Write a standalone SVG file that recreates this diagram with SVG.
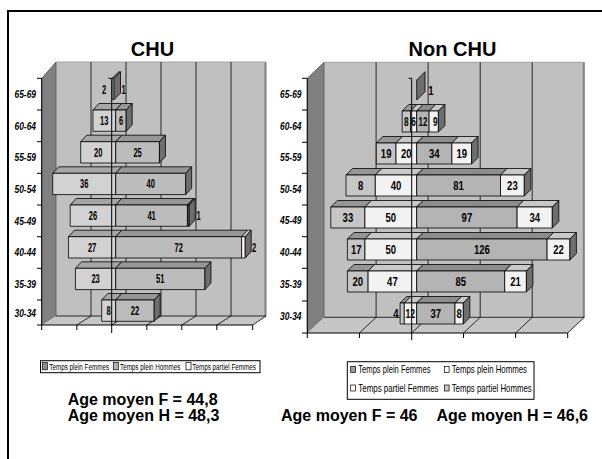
<svg xmlns="http://www.w3.org/2000/svg" width="602" height="459" viewBox="0 0 602 459">
<style>
.s{stroke:#000;stroke-width:0.8;stroke-linejoin:round}
.wall{fill:#c0c0c0}
.side{fill:#808080;stroke:#555;stroke-width:0.8}
.floor{fill:#c6c6c6}
.grid{stroke:#000;stroke-width:0.8;fill:none}
.ax{stroke:#000;stroke-width:1;fill:none}
.lf{fill:#d2d2d2}.lft{fill:#a6a6a6}
.lh{fill:#bcbcbc}.lht{fill:#969696}
.rs{fill:#6e6e6e}
.dk{fill:#6e6e6e}
.wh{fill:#ffffff}.wht{fill:#e0e0e0}
.ra{fill:#c6c6c6}.rat{fill:#969696}
.rb{fill:#f2f2f2}.rbt{fill:#c8c8c8}
.rc{fill:#b4b4b4}.rct{fill:#8c8c8c}
.t{font-family:"Liberation Sans",Arial,sans-serif;fill:#000}
.ttl{font-size:20px;font-weight:bold;text-anchor:middle}
.cat{font-size:10.5px;font-weight:bold;font-style:italic;text-anchor:end}
.vl{font-size:12px;font-weight:bold;text-anchor:middle}
.vr{font-size:13.5px;font-weight:bold;text-anchor:middle}
.vs{font-size:12px;font-weight:bold;text-anchor:middle}
.lg{font-size:9px}
.lg2{font-size:10px}
.age{font-size:16px;font-weight:bold}
</style>

<g id="frame"><path d="M8,459 V11 H602" fill="none" stroke="#000" stroke-width="2"/></g>

<g id="titles">
<text class="t ttl" x="152.5" y="56">CHU</text>
<text class="t ttl" x="452.5" y="56">Non CHU</text>
</g>

<!-- LEFT CHART -->
<g id="chu-chart">
<g id="chu-walls">
<rect class="wall" x="56" y="62" width="210" height="254"/>
<polygon class="side" points="41.7,78.3 56,62 56,316 41.7,325"/>
<polygon class="floor" points="41.7,325 252.7,325 266,316 56,316"/>
<line x1="265.5" y1="62" x2="265.5" y2="316" stroke="#808080" stroke-width="2"/>
<line x1="56" y1="62" x2="266" y2="62" stroke="#a0a0a0" stroke-width="1"/>
<path class="grid" d="M91,62V316M126,62V316M161,62V316M196,62V316M231,62V316"/>
<path class="grid" d="M76.8,325L91,316M111.7,325L126,316M146.8,325L161,316M181.8,325L196,316M216.8,325L231,316M252.7,325L266,316M56,316H266"/>
<path class="ax" d="M41.7,78.3V325H252.7M37,78.3H41.7M37,110H41.7M37,141.7H41.7M37,173.3H41.7M37,205H41.7M37,236.7H41.7M37,268.3H41.7M37,300H41.7M37,325H41.7M41.7,325V330M76.8,325V330M146.8,325V330M181.8,325V330M216.8,325V330M252.7,325V330"/>
</g>
<g id="chu-labels">
<text class="t cat" x="36" y="97.5" textLength="21.5" lengthAdjust="spacingAndGlyphs">65-69</text>
<text class="t cat" x="36" y="129.5" textLength="21.5" lengthAdjust="spacingAndGlyphs">60-64</text>
<text class="t cat" x="36" y="161" textLength="21.5" lengthAdjust="spacingAndGlyphs">55-59</text>
<text class="t cat" x="36" y="192.5" textLength="21.5" lengthAdjust="spacingAndGlyphs">50-54</text>
<text class="t cat" x="36" y="224.5" textLength="21.5" lengthAdjust="spacingAndGlyphs">45-49</text>
<text class="t cat" x="36" y="256" textLength="21.5" lengthAdjust="spacingAndGlyphs">40-44</text>
<text class="t cat" x="36" y="287.5" textLength="21.5" lengthAdjust="spacingAndGlyphs">35-39</text>
<text class="t cat" x="36" y="316.5" textLength="21.5" lengthAdjust="spacingAndGlyphs">30-34</text>
</g>
<g id="chu-bars" class="s">
<g id="chu-65-69">
<polygon class="lft" points="112.2,78.3 114,78.3 120.5,71.8 118.7,71.8"/>
<rect class="wh" x="112.2" y="78.3" width="1.8" height="21.3"/>
<polygon class="dk" points="114,78.3 120.5,71.8 120.5,93.1 114,99.6"/>
</g>
<g id="chu-60-64">
<polygon class="lft" points="92.95,110 115.7,110 121.7,103.5 98.95,103.5"/>
<rect class="lf" x="92.95" y="110" width="22.75" height="21.3"/>
<polygon class="lht" points="115.7,110 126.2,110 132.2,103.5 121.7,103.5"/>
<rect class="lh" x="115.7" y="110" width="10.5" height="21.3"/>
<polygon class="rs" points="126.2,110 132.2,103.5 132.2,124.8 126.2,131.3"/>
</g>
<g id="chu-55-59">
<polygon class="lft" points="80.7,141.7 115.7,141.7 121.7,135.2 86.7,135.2"/>
<rect class="lf" x="80.7" y="141.7" width="35" height="21.3"/>
<polygon class="lht" points="115.7,141.7 159.45,141.7 165.45,135.2 121.7,135.2"/>
<rect class="lh" x="115.7" y="141.7" width="43.75" height="21.3"/>
<polygon class="rs" points="159.45,141.7 165.45,135.2 165.45,156.5 159.45,163"/>
</g>
<g id="chu-50-54">
<polygon class="lft" points="52.7,173.3 115.7,173.3 121.7,166.8 58.7,166.8"/>
<rect class="lf" x="52.7" y="173.3" width="63" height="21.3"/>
<polygon class="lht" points="115.7,173.3 185.7,173.3 191.7,166.8 121.7,166.8"/>
<rect class="lh" x="115.7" y="173.3" width="70" height="21.3"/>
<polygon class="rs" points="185.7,173.3 191.7,166.8 191.7,188.1 185.7,194.6"/>
</g>
<g id="chu-45-49">
<polygon class="lft" points="70.2,205 115.7,205 121.7,198.5 76.2,198.5"/>
<rect class="lf" x="70.2" y="205" width="45.5" height="21.3"/>
<polygon class="lht" points="115.7,205 187.45,205 193.45,198.5 121.7,198.5"/>
<rect class="lh" x="115.7" y="205" width="71.75" height="21.3"/>
<polygon class="rs" points="187.45,205 189.2,205 195.2,198.5 193.45,198.5"/>
<rect class="dk" x="187.45" y="205" width="1.75" height="21.3"/>
<polygon class="rs" points="189.2,205 195.2,198.5 195.2,219.8 189.2,226.3"/>
</g>
<g id="chu-40-44">
<polygon class="lft" points="68.45,236.7 115.7,236.7 121.7,230.2 74.45,230.2"/>
<rect class="lf" x="68.45" y="236.7" width="47.25" height="21.3"/>
<polygon class="lht" points="115.7,236.7 241.7,236.7 247.7,230.2 121.7,230.2"/>
<rect class="lh" x="115.7" y="236.7" width="126" height="21.3"/>
<polygon class="wht" points="241.7,236.7 245.2,236.7 251.2,230.2 247.7,230.2"/>
<rect class="wh" x="241.7" y="236.7" width="3.5" height="21.3"/>
<polygon class="rs" points="245.2,236.7 251.2,230.2 251.2,251.5 245.2,258"/>
</g>
<g id="chu-35-39">
<polygon class="lft" points="75.45,268.3 115.7,268.3 121.7,261.8 81.45,261.8"/>
<rect class="lf" x="75.45" y="268.3" width="40.25" height="21.3"/>
<polygon class="lht" points="115.7,268.3 204.95,268.3 210.95,261.8 121.7,261.8"/>
<rect class="lh" x="115.7" y="268.3" width="89.25" height="21.3"/>
<polygon class="rs" points="204.95,268.3 210.95,261.8 210.95,283.1 204.95,289.6"/>
</g>
<g id="chu-30-34">
<polygon class="lft" points="101.7,300 115.7,300 121.7,293.5 107.7,293.5"/>
<rect class="lf" x="101.7" y="300" width="14" height="21.3"/>
<polygon class="lht" points="115.7,300 154.2,300 160.2,293.5 121.7,293.5"/>
<rect class="lh" x="115.7" y="300" width="38.5" height="21.3"/>
<polygon class="rs" points="154.2,300 160.2,293.5 160.2,314.8 154.2,321.3"/>
</g>
</g>
<path class="ax" d="M108.5,78.3H111.7V333"/>
<g id="chu-values">
<text class="t vl" x="104" y="93.5" textLength="4.2" lengthAdjust="spacingAndGlyphs">2</text>
<text class="t vl" x="123.5" y="93.5" textLength="4.2" lengthAdjust="spacingAndGlyphs">1</text>
<text class="t vl" x="104.3" y="125.2" textLength="8.4" lengthAdjust="spacingAndGlyphs">13</text>
<text class="t vl" x="121" y="125.2" textLength="4.2" lengthAdjust="spacingAndGlyphs">6</text>
<text class="t vl" x="98.2" y="156.8" textLength="8.4" lengthAdjust="spacingAndGlyphs">20</text>
<text class="t vl" x="137.6" y="156.8" textLength="8.4" lengthAdjust="spacingAndGlyphs">25</text>
<text class="t vl" x="84.2" y="188.4" textLength="8.4" lengthAdjust="spacingAndGlyphs">36</text>
<text class="t vl" x="150.7" y="188.4" textLength="8.4" lengthAdjust="spacingAndGlyphs">40</text>
<text class="t vl" x="92.95" y="220.1" textLength="8.4" lengthAdjust="spacingAndGlyphs">26</text>
<text class="t vl" x="151.6" y="220.1" textLength="8.4" lengthAdjust="spacingAndGlyphs">41</text>
<text class="t vl" x="198.5" y="220.1" textLength="4.2" lengthAdjust="spacingAndGlyphs">1</text>
<text class="t vl" x="92.1" y="251.8" textLength="8.4" lengthAdjust="spacingAndGlyphs">27</text>
<text class="t vl" x="178.7" y="251.8" textLength="8.4" lengthAdjust="spacingAndGlyphs">72</text>
<text class="t vl" x="254" y="251.8" textLength="4.2" lengthAdjust="spacingAndGlyphs">2</text>
<text class="t vl" x="95.6" y="283.4" textLength="8.4" lengthAdjust="spacingAndGlyphs">23</text>
<text class="t vl" x="160.3" y="283.4" textLength="8.4" lengthAdjust="spacingAndGlyphs">51</text>
<text class="t vl" x="108.7" y="315.1" textLength="4.2" lengthAdjust="spacingAndGlyphs">8</text>
<text class="t vl" x="134.95" y="315.1" textLength="8.4" lengthAdjust="spacingAndGlyphs">22</text>
</g>
<g id="chu-legend">
<rect x="40.5" y="360.7" width="219.5" height="12" fill="#fff" stroke="#000" stroke-width="1"/>
<rect x="42.3" y="362.3" width="5" height="7.5" fill="#909090" stroke="#000" stroke-width="0.7"/>
<text class="t lg" transform="translate(49.3,369.5) scale(0.7,1)">Temps plein Femmes</text>
<rect x="113.3" y="362.3" width="5" height="7.5" fill="#b4b4b4" stroke="#000" stroke-width="0.7"/>
<text class="t lg" transform="translate(120,369.5) scale(0.7,1)">Temps plein Hommes</text>
<rect x="186" y="362.3" width="5" height="7.5" fill="#fff" stroke="#000" stroke-width="0.7"/>
<text class="t lg" transform="translate(192.3,369.5) scale(0.7,1)">Temps partiel Femmes</text>
</g>
</g>

<!-- RIGHT CHART -->
<g id="nonchu-chart">
<g id="nonchu-walls">
<rect class="wall" x="324" y="62.3" width="260.3" height="255"/>
<polygon class="side" points="307.3,78.3 324,62.3 324,317.3 307.3,333"/>
<polygon class="floor" points="307.3,333 567.7,333 584.3,317.3 324,317.3"/>
<line x1="583.8" y1="62.3" x2="583.8" y2="317.3" stroke="#808080" stroke-width="2"/>
<line x1="324" y1="62.3" x2="584.3" y2="62.3" stroke="#a0a0a0" stroke-width="1"/>
<path class="grid" d="M376.1,62.3V317.3M428.1,62.3V317.3M480.2,62.3V317.3M532.2,62.3V317.3"/>
<path class="grid" d="M359.4,333L376.1,317.3M411.7,333L428.1,317.3M463.5,333L480.2,317.3M515.6,333L532.2,317.3M567.7,333L584.3,317.3M324,317.3H584.3"/>
<path class="ax" d="M307.3,78.3V333H567.7M302,78.3H307.3M302,110H307.3M302,142.3H307.3M302,173.3H307.3M302,205H307.3M302,236.7H307.3M302,268.3H307.3M302,301H307.3M302,333H307.3M307.3,333V338M359.4,333V338M463.5,333V338M515.6,333V338M567.7,333V338"/>
</g>
<g id="nonchu-labels">
<text class="t cat" x="301.5" y="97.7" textLength="21.5" lengthAdjust="spacingAndGlyphs">65-69</text>
<text class="t cat" x="301.5" y="129.7" textLength="21.5" lengthAdjust="spacingAndGlyphs">60-64</text>
<text class="t cat" x="301.5" y="161.3" textLength="21.5" lengthAdjust="spacingAndGlyphs">55-59</text>
<text class="t cat" x="301.5" y="192.7" textLength="21.5" lengthAdjust="spacingAndGlyphs">50-54</text>
<text class="t cat" x="301.5" y="224.4" textLength="21.5" lengthAdjust="spacingAndGlyphs">45-49</text>
<text class="t cat" x="301.5" y="256" textLength="21.5" lengthAdjust="spacingAndGlyphs">40-44</text>
<text class="t cat" x="301.5" y="288.2" textLength="21.5" lengthAdjust="spacingAndGlyphs">35-39</text>
<text class="t cat" x="301.5" y="320.2" textLength="21.5" lengthAdjust="spacingAndGlyphs">30-34</text>
</g>
<g id="nonchu-bars" class="s">
<g id="nc-65-69">
<polygon class="dk" points="416.7,80 425,71.7 425,91.7 416.7,100"/>
</g>
<g id="nc-60-64">
<polygon class="rat" points="402.2,111 410.5,111 417,104.5 408.7,104.5"/>
<rect class="ra" x="402.2" y="111" width="8.3" height="21"/>
<polygon class="rbt" points="410.5,111 416.7,111 423.2,104.5 417,104.5"/>
<rect class="rb" x="410.5" y="111" width="6.2" height="21"/>
<polygon class="rct" points="416.7,111 429.1,111 435.6,104.5 423.2,104.5"/>
<rect class="rc" x="416.7" y="111" width="12.4" height="21"/>
<polygon class="rbt" points="429.1,111 438.4,111 444.9,104.5 435.6,104.5"/>
<rect class="rb" x="429.1" y="111" width="9.3" height="21"/>
<polygon class="rs" points="438.4,111 444.9,104.5 444.9,125.5 438.4,132"/>
</g>
<g id="nc-55-59">
<polygon class="rat" points="376.3,143 396,143 402.5,136.5 382.8,136.5"/>
<rect class="ra" x="376.3" y="143" width="19.7" height="21"/>
<polygon class="rbt" points="396,143 416.7,143 423.2,136.5 402.5,136.5"/>
<rect class="rb" x="396" y="143" width="20.7" height="21"/>
<polygon class="rct" points="416.7,143 451.9,143 458.4,136.5 423.2,136.5"/>
<rect class="rc" x="416.7" y="143" width="35.2" height="21"/>
<polygon class="rbt" points="451.9,143 471.6,143 478.1,136.5 458.4,136.5"/>
<rect class="rb" x="451.9" y="143" width="19.7" height="21"/>
<polygon class="rs" points="471.6,143 478.1,136.5 478.1,157.5 471.6,164"/>
</g>
<g id="nc-50-54">
<polygon class="rat" points="346,175 375.3,175 381.8,168.5 352.5,168.5"/>
<rect class="ra" x="346" y="175" width="29.3" height="21"/>
<polygon class="rbt" points="375.3,175 416.7,175 423.2,168.5 381.8,168.5"/>
<rect class="rb" x="375.3" y="175" width="41.4" height="21"/>
<polygon class="rct" points="416.7,175 500.5,175 507,168.5 423.2,168.5"/>
<rect class="rc" x="416.7" y="175" width="83.8" height="21"/>
<polygon class="rbt" points="500.5,175 524.3,175 530.8,168.5 507,168.5"/>
<rect class="rb" x="500.5" y="175" width="23.8" height="21"/>
<polygon class="rs" points="524.3,175 530.8,168.5 530.8,189.5 524.3,196"/>
</g>
<g id="nc-45-49">
<polygon class="rat" points="330.8,207 364.95,207 371.45,200.5 337.3,200.5"/>
<rect class="ra" x="330.8" y="207" width="34.15" height="21"/>
<polygon class="rbt" points="364.95,207 416.7,207 423.2,200.5 371.45,200.5"/>
<rect class="rb" x="364.95" y="207" width="51.75" height="21"/>
<polygon class="rct" points="416.7,207 517.1,207 523.6,200.5 423.2,200.5"/>
<rect class="rc" x="416.7" y="207" width="100.4" height="21"/>
<polygon class="rbt" points="517.1,207 552.3,207 558.8,200.5 523.6,200.5"/>
<rect class="rb" x="517.1" y="207" width="35.2" height="21"/>
<polygon class="rs" points="552.3,207 558.8,200.5 558.8,221.5 552.3,228"/>
</g>
<g id="nc-40-44">
<polygon class="rat" points="347.4,239 364.95,239 371.45,232.5 353.9,232.5"/>
<rect class="ra" x="347.4" y="239" width="17.55" height="21"/>
<polygon class="rbt" points="364.95,239 416.7,239 423.2,232.5 371.45,232.5"/>
<rect class="rb" x="364.95" y="239" width="51.75" height="21"/>
<polygon class="rct" points="416.7,239 547.1,239 553.6,232.5 423.2,232.5"/>
<rect class="rc" x="416.7" y="239" width="130.4" height="21"/>
<polygon class="rbt" points="547.1,239 569.9,239 576.4,232.5 553.6,232.5"/>
<rect class="rb" x="547.1" y="239" width="22.8" height="21"/>
<polygon class="rs" points="569.9,239 576.4,232.5 576.4,253.5 569.9,260"/>
</g>
<g id="nc-35-39">
<polygon class="rat" points="347.4,271 368.1,271 374.6,264.5 353.9,264.5"/>
<rect class="ra" x="347.4" y="271" width="20.7" height="21"/>
<polygon class="rbt" points="368.1,271 416.7,271 423.2,264.5 374.6,264.5"/>
<rect class="rb" x="368.1" y="271" width="48.6" height="21"/>
<polygon class="rct" points="416.7,271 504.7,271 511.2,264.5 423.2,264.5"/>
<rect class="rc" x="416.7" y="271" width="88" height="21"/>
<polygon class="rbt" points="504.7,271 526.4,271 532.9,264.5 511.2,264.5"/>
<rect class="rb" x="504.7" y="271" width="21.7" height="21"/>
<polygon class="rs" points="526.4,271 532.9,264.5 532.9,285.5 526.4,292"/>
</g>
<g id="nc-30-34">
<polygon class="rat" points="400.1,303 404.3,303 410.8,296.5 406.6,296.5"/>
<rect class="ra" x="400.1" y="303" width="4.2" height="21"/>
<polygon class="rbt" points="404.3,303 416.7,303 423.2,296.5 410.8,296.5"/>
<rect class="rb" x="404.3" y="303" width="12.4" height="21"/>
<polygon class="rct" points="416.7,303 455,303 461.5,296.5 423.2,296.5"/>
<rect class="rc" x="416.7" y="303" width="38.3" height="21"/>
<polygon class="rbt" points="455,303 463.3,303 469.8,296.5 461.5,296.5"/>
<rect class="rb" x="455" y="303" width="8.3" height="21"/>
<polygon class="rs" points="463.3,303 469.8,296.5 469.8,317.5 463.3,324"/>
</g>
</g>
<path class="ax" d="M408.5,78.3H411.7V340"/>
<g id="nonchu-values">
<text class="t vr" x="431" y="94.5" textLength="5.3" lengthAdjust="spacingAndGlyphs">1</text>
<text class="t vs" x="406.35" y="126.3" textLength="4.6" lengthAdjust="spacingAndGlyphs">8</text>
<text class="t vs" x="413.6" y="126.3" textLength="4.6" lengthAdjust="spacingAndGlyphs">6</text>
<text class="t vs" x="423" y="126.3" textLength="8.8" lengthAdjust="spacingAndGlyphs">12</text>
<text class="t vs" x="435.3" y="126.3" textLength="4.6" lengthAdjust="spacingAndGlyphs">9</text>
<text class="t vr" x="386.15" y="158.3" textLength="10.6" lengthAdjust="spacingAndGlyphs">19</text>
<text class="t vr" x="406.35" y="158.3" textLength="10.6" lengthAdjust="spacingAndGlyphs">20</text>
<text class="t vr" x="434.3" y="158.3" textLength="10.6" lengthAdjust="spacingAndGlyphs">34</text>
<text class="t vr" x="461.75" y="158.3" textLength="10.6" lengthAdjust="spacingAndGlyphs">19</text>
<text class="t vr" x="360.65" y="190.3" textLength="5.3" lengthAdjust="spacingAndGlyphs">8</text>
<text class="t vr" x="396" y="190.3" textLength="10.6" lengthAdjust="spacingAndGlyphs">40</text>
<text class="t vr" x="458.6" y="190.3" textLength="10.6" lengthAdjust="spacingAndGlyphs">81</text>
<text class="t vr" x="512.4" y="190.3" textLength="10.6" lengthAdjust="spacingAndGlyphs">23</text>
<text class="t vr" x="347.9" y="222.3" textLength="10.6" lengthAdjust="spacingAndGlyphs">33</text>
<text class="t vr" x="390.8" y="222.3" textLength="10.6" lengthAdjust="spacingAndGlyphs">50</text>
<text class="t vr" x="466.9" y="222.3" textLength="10.6" lengthAdjust="spacingAndGlyphs">97</text>
<text class="t vr" x="534.7" y="222.3" textLength="10.6" lengthAdjust="spacingAndGlyphs">34</text>
<text class="t vr" x="356.2" y="254.3" textLength="10.6" lengthAdjust="spacingAndGlyphs">17</text>
<text class="t vr" x="390.8" y="254.3" textLength="10.6" lengthAdjust="spacingAndGlyphs">50</text>
<text class="t vr" x="481.9" y="254.3" textLength="16" lengthAdjust="spacingAndGlyphs">126</text>
<text class="t vr" x="558.5" y="254.3" textLength="10.6" lengthAdjust="spacingAndGlyphs">22</text>
<text class="t vr" x="357.75" y="286.3" textLength="10.6" lengthAdjust="spacingAndGlyphs">20</text>
<text class="t vr" x="392.4" y="286.3" textLength="10.6" lengthAdjust="spacingAndGlyphs">47</text>
<text class="t vr" x="460.7" y="286.3" textLength="10.6" lengthAdjust="spacingAndGlyphs">85</text>
<text class="t vr" x="515.55" y="286.3" textLength="10.6" lengthAdjust="spacingAndGlyphs">21</text>
<text class="t vr" x="396" y="318.3" textLength="5.3" lengthAdjust="spacingAndGlyphs">4</text>
<text class="t vr" x="410.3" y="318.3" textLength="9.6" lengthAdjust="spacingAndGlyphs">12</text>
<text class="t vr" x="435.85" y="318.3" textLength="10.6" lengthAdjust="spacingAndGlyphs">37</text>
<text class="t vr" x="459.15" y="318.3" textLength="5.3" lengthAdjust="spacingAndGlyphs">8</text>
</g>
<g id="nonchu-legend">
<rect x="347.3" y="361.7" width="186.7" height="37.6" fill="#fff" stroke="#000" stroke-width="1"/>
<rect x="350.7" y="366.5" width="4.8" height="6" fill="#a0a0a0" stroke="#000" stroke-width="0.7"/>
<text class="t lg2" transform="translate(358.3,373.3) scale(0.76,1)">Temps plein Femmes</text>
<rect x="444.3" y="366.5" width="4.8" height="6" fill="#fff" stroke="#000" stroke-width="0.7"/>
<text class="t lg2" transform="translate(451.7,373.3) scale(0.785,1)">Temps plein Hommes</text>
<rect x="350.7" y="385" width="4.8" height="6" fill="#fff" stroke="#000" stroke-width="0.7"/>
<text class="t lg2" transform="translate(358.3,392.3) scale(0.795,1)">Temps partiel Femmes</text>
<rect x="444.3" y="385" width="4.8" height="6" fill="#c8c8c8" stroke="#000" stroke-width="0.7"/>
<text class="t lg2" transform="translate(451.7,392.3) scale(0.785,1)">Temps partiel Hommes</text>
</g>
</g>

<g id="averages">
<text class="t age" x="67.7" y="404.5">Age moyen F = 44,8</text>
<text class="t age" x="67.7" y="420.5">Age moyen H = 48,3</text>
<text class="t age" x="281" y="420.5">Age moyen F = 46</text>
<text class="t age" x="588" y="420.5" text-anchor="end">Age moyen H = 46,6</text>
</g>
</svg>
